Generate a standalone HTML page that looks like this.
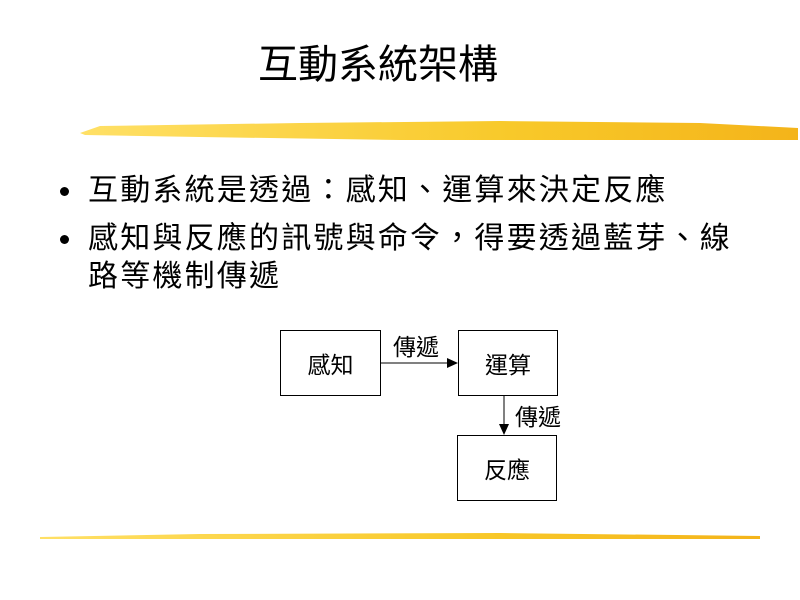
<!DOCTYPE html>
<html><head><meta charset="utf-8"><style>
body{margin:0;width:800px;height:600px;background:#fff;position:relative;overflow:hidden;font-family:"Liberation Sans","Noto Sans CJK TC",sans-serif;color:#000}
.t{position:absolute;left:0;width:756px;text-align:center;top:40px;font-size:40px;line-height:50px}
.b{position:absolute;left:88px;font-size:30px;letter-spacing:2.2px;line-height:38px;white-space:nowrap}
.d{position:absolute;left:60px;width:9px;height:9px;border-radius:50%;background:#000}
.box{position:absolute;border:1px solid #000;box-sizing:border-box;display:flex;align-items:center;justify-content:center;font-size:23px}
.l{position:absolute;font-size:23px;line-height:26px}
</style></head><body>
<div class="t">互動系統架構</div>
<svg width="800" height="600" style="position:absolute;left:0;top:0">
<defs><linearGradient id="g" x1="0" x2="1"><stop offset="0" stop-color="#ffe066"/><stop offset="0.6" stop-color="#f8c92a"/><stop offset="1" stop-color="#f4b41a"/></linearGradient></defs>
<path d="M80 133 L100 126 L300 123 L500 121 L700 123 L798 128 L798 140 L600 140 L400 140 L200 137 L85 135 Z" fill="url(#g)"/>
<path d="M40 537 L200 534 L500 533 L760 536 L760 539 L400 539 L40 539 Z" fill="url(#g)"/>
<line x1="380" y1="363" x2="448" y2="363" stroke="#000"/>
<polygon points="458,363 447,358 447,368" fill="#000"/>
<line x1="504" y1="395" x2="504" y2="425" stroke="#000"/>
<polygon points="504,435 499,424 509,424" fill="#000"/>
</svg>
<div class="d" style="top:187px"></div>
<div class="b" style="top:172px">互動系統是透過：感知、運算來決定反應</div>
<div class="d" style="top:235px"></div>
<div class="b" style="top:220px">感知與反應的訊號與命令，得要透過藍芽、線<br>路等機制傳遞</div>
<div class="box" style="left:280px;top:330px;width:101px;height:66px">感知</div>
<div class="box" style="left:458px;top:330px;width:100px;height:66px">運算</div>
<div class="box" style="left:457px;top:435px;width:100px;height:66px">反應</div>
<div class="l" style="left:393px;top:334px">傳遞</div>
<div class="l" style="left:515px;top:404px">傳遞</div>
</body></html>
